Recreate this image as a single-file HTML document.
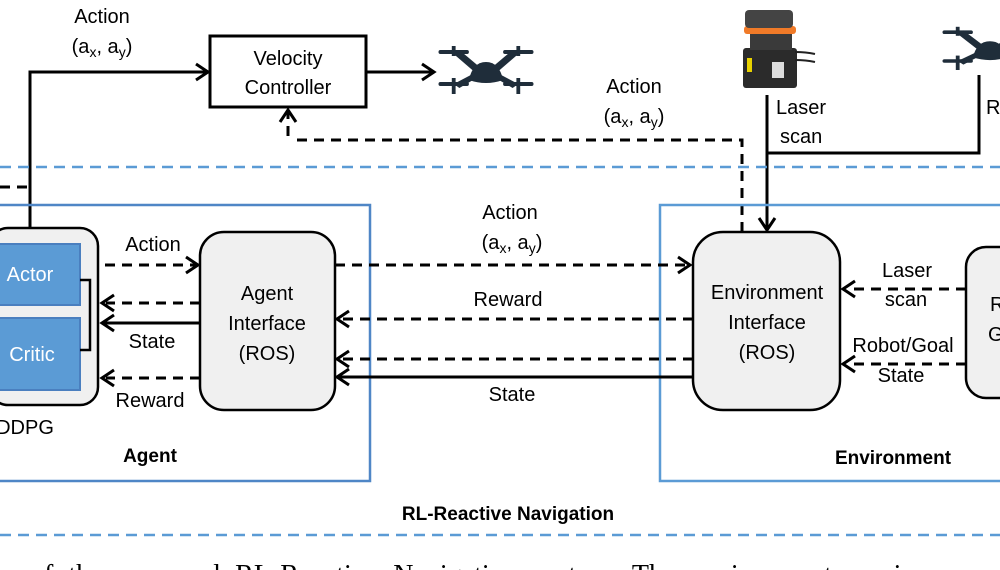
<!DOCTYPE html>
<html><head><meta charset="utf-8"><style>
html,body{margin:0;padding:0;background:#fff;}
svg{display:block;}
text{font-family:"Liberation Sans",sans-serif;font-size:20px;fill:#000;}
.b{font-weight:bold;font-size:19px;}
.w{fill:#fff;}
</style></head><body>
<svg width="1000" height="570" viewBox="0 0 1000 570" xmlns="http://www.w3.org/2000/svg">
<defs>
<g id="drone" fill="#1f2d3a">
 <rect x="-50" y="-24" width="32" height="4" rx="2"/>
 <rect x="-36" y="-28" width="4" height="10"/>
 <rect x="18" y="-24" width="32" height="4" rx="2"/>
 <rect x="32" y="-28" width="4" height="10"/>
 <rect x="-50" y="8" width="32" height="4" rx="2"/>
 <rect x="-36" y="4" width="4" height="16"/>
 <rect x="18" y="8" width="32" height="4" rx="2"/>
 <rect x="32" y="4" width="4" height="16"/>
 <polygon points="-34,-20 -28,-24 -8,-8 -12,-2"/>
 <polygon points="34,-20 28,-24 8,-8 12,-2"/>
 <polygon points="-34,10 -28,14 -10,4 -14,0"/>
 <polygon points="34,10 28,14 10,4 14,0"/>
 <path d="M-18,6 Q-14,-12 0,-12 Q14,-12 18,6 Q0,12 -18,6Z"/>
</g>
</defs>
<g stroke="#000" stroke-width="3" fill="none">
 <polyline points="30,228 30,72 208,72"/>
 <polyline points="196,64 208,72 196,80"/>
 <rect x="210" y="36" width="156" height="71" fill="#fff"/>
 <line x1="366" y1="72" x2="434" y2="72"/>
 <polyline points="422,64 434,72 422,80"/>
 <polyline points="742,232 742,140 295,140" stroke-dasharray="10,7"/>
 <line x1="288" y1="136" x2="288" y2="112" stroke-dasharray="10,7"/>
 <polyline points="280,122 288,110 296,122"/>
 <line x1="767" y1="95" x2="767" y2="230"/>
 <polyline points="759,218 767,230 775,218"/>
 <polyline points="767,153 979,153 979,75"/>
 <line x1="0" y1="187" x2="30" y2="187" stroke-dasharray="10,7"/>
</g>
<line x1="0" y1="167" x2="1000" y2="167" stroke="#5b9bd5" stroke-width="2.5" stroke-dasharray="11,7"/>
<line x1="0" y1="535" x2="1000" y2="535" stroke="#5b9bd5" stroke-width="2.5" stroke-dasharray="11,7"/>
<rect x="-5" y="205" width="375" height="276" fill="none" stroke="#4f86c6" stroke-width="2.5"/>
<rect x="660" y="205" width="350" height="276" fill="none" stroke="#5b9bd5" stroke-width="2.5"/>
<rect x="-10" y="228" width="108" height="177" rx="18" fill="#f0f0f0" stroke="#000" stroke-width="2.5"/>
<rect x="-2" y="244" width="82" height="61" fill="#5b9bd5" stroke="#4a7fbf" stroke-width="2"/>
<rect x="-2" y="318" width="82" height="72" fill="#5b9bd5" stroke="#4a7fbf" stroke-width="2"/>
<text x="30" y="281" text-anchor="middle" class="w">Actor</text>
<text x="32" y="361" text-anchor="middle" class="w">Critic</text>
<polyline points="80,280 90,280 90,350 80,350" fill="none" stroke="#000" stroke-width="2.5"/>
<rect x="200" y="232" width="135" height="178" rx="24" fill="#f0f0f0" stroke="#000" stroke-width="2.5"/>
<text x="267" y="300" text-anchor="middle">Agent</text>
<text x="267" y="330" text-anchor="middle">Interface</text>
<text x="267" y="360" text-anchor="middle">(ROS)</text>
<rect x="693" y="232" width="147" height="178" rx="30" fill="#f0f0f0" stroke="#000" stroke-width="2.5"/>
<text x="767" y="299" text-anchor="middle">Environment</text>
<text x="767" y="329" text-anchor="middle">Interface</text>
<text x="767" y="359" text-anchor="middle">(ROS)</text>
<rect x="966" y="247" width="60" height="151" rx="20" fill="#f0f0f0" stroke="#000" stroke-width="2.5"/>
<text x="990" y="311">R</text>
<text x="988" y="341">G</text>
<g stroke="#000" stroke-width="3" fill="none">
 <line x1="105" y1="265" x2="196" y2="265" stroke-dasharray="10,7"/>
 <polyline points="186,257 198,265 186,273"/>
 <line x1="200" y1="303" x2="106" y2="303" stroke-dasharray="10,7"/>
 <polyline points="114,295 102,303 114,311"/>
 <line x1="200" y1="323" x2="104" y2="323"/>
 <polyline points="114,315 102,323 114,331"/>
 <line x1="200" y1="378" x2="106" y2="378" stroke-dasharray="10,7"/>
 <polyline points="114,370 102,378 114,386"/>
 <line x1="335" y1="265" x2="688" y2="265" stroke-dasharray="10,7"/>
 <polyline points="678,257 690,265 678,273"/>
 <line x1="693" y1="319" x2="341" y2="319" stroke-dasharray="10,7"/>
 <polyline points="349,311 337,319 349,327"/>
 <line x1="693" y1="359" x2="341" y2="359" stroke-dasharray="10,7"/>
 <polyline points="349,351 337,359 349,367"/>
 <line x1="693" y1="377" x2="339" y2="377"/>
 <polyline points="349,369 337,377 349,385"/>
 <line x1="966" y1="289" x2="847" y2="289" stroke-dasharray="10,7"/>
 <polyline points="855,281 843,289 855,297"/>
 <line x1="966" y1="364" x2="847" y2="364" stroke-dasharray="10,7"/>
 <polyline points="855,356 843,364 855,372"/>
</g>
<text x="102" y="23" text-anchor="middle">Action</text>
<text x="102" y="53" text-anchor="middle">(a<tspan font-size="14" dy="4">x</tspan><tspan dy="-4">, a</tspan><tspan font-size="14" dy="4">y</tspan><tspan dy="-4">)</tspan></text>
<text x="288" y="65" text-anchor="middle">Velocity</text>
<text x="288" y="94" text-anchor="middle">Controller</text>
<text x="634" y="93" text-anchor="middle">Action</text>
<text x="634" y="123" text-anchor="middle">(a<tspan font-size="14" dy="4">x</tspan><tspan dy="-4">, a</tspan><tspan font-size="14" dy="4">y</tspan><tspan dy="-4">)</tspan></text>
<text x="776" y="114">Laser</text>
<text x="780" y="143">scan</text>
<text x="986" y="114">R</text>
<text x="153" y="251" text-anchor="middle">Action</text>
<text x="152" y="348" text-anchor="middle">State</text>
<text x="150" y="407" text-anchor="middle">Reward</text>
<text x="25" y="434" text-anchor="middle">DDPG</text>
<text x="150" y="462" text-anchor="middle" class="b">Agent</text>
<text x="510" y="219" text-anchor="middle">Action</text>
<text x="512" y="249" text-anchor="middle">(a<tspan font-size="14" dy="4">x</tspan><tspan dy="-4">, a</tspan><tspan font-size="14" dy="4">y</tspan><tspan dy="-4">)</tspan></text>
<text x="508" y="306" text-anchor="middle">Reward</text>
<text x="512" y="401" text-anchor="middle">State</text>
<text x="907" y="277" text-anchor="middle">Laser</text>
<text x="906" y="306" text-anchor="middle">scan</text>
<text x="903" y="352" text-anchor="middle">Robot/Goal</text>
<text x="901" y="382" text-anchor="middle">State</text>
<text x="893" y="464" text-anchor="middle" class="b">Environment</text>
<text x="508" y="520" text-anchor="middle" class="b">RL-Reactive Navigation</text>
<text x="30" y="584" style="font-family:'Liberation Serif',serif;font-size:28px;word-spacing:8px">of the proposed RL-Reactive Navigation system. The environment receives</text>
<use href="#drone" transform="translate(486,74) scale(0.95,1.0)"/>
<use href="#drone" transform="translate(990,52) scale(0.95,0.9)"/>
<g>
 <rect x="743" y="48" width="54" height="40" rx="3" fill="#2b2b2b"/>
 <rect x="747" y="58" width="5" height="14" fill="#e8d200"/>
 <rect x="772" y="62" width="12" height="16" fill="#ddd"/>
 <rect x="750" y="32" width="42" height="18" fill="#3a3a3a"/>
 <rect x="744" y="26" width="52" height="8" rx="3" fill="#f07a28"/>
 <rect x="745" y="10" width="48" height="18" rx="4" fill="#444"/>
 <path d="M795,52 Q806,52 815,54 M795,60 Q806,60 815,62" stroke="#222" stroke-width="2" fill="none"/>
</g>
</svg>
</body></html>
